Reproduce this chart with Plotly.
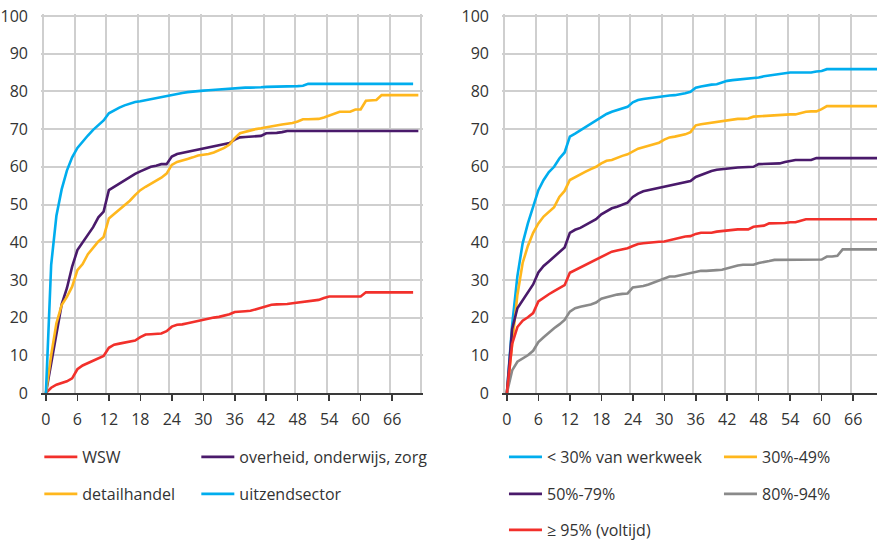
import plotly.graph_objects as go

# ---------------- data (months since start, cumulative %) ----------------
wsw = [0, 1.4, 2.2, 2.7, 3.1, 3.9, 6.3, 7.3, 7.9, 8.5,
       9.2, 9.8, 12.0, 12.8, 13.1, 13.4, 13.6, 13.9, 14.8, 15.5,
       15.6, 15.7, 15.8, 16.4, 17.6, 18.1, 18.2, 18.5, 18.8, 19.3,
       19.6, 19.8, 20.0, 20.2, 20.5, 20.9, 21.5, 21.7, 21.7, 21.8,
       22.2, 22.6, 23.1, 23.4, 23.5, 23.5, 23.6, 23.8, 24.0, 24.2,
       24.3, 24.6, 24.7, 25.2, 25.6, 25.6, 25.6, 25.6, 25.6, 25.6,
       25.6, 26.7, 26.7, 26.7, 26.7, 26.7, 26.7, 26.7, 26.7, 26.7, 26.7]

overheid = [0, 8, 16.5, 23.5, 27.8, 33.5, 37.9, 40.0, 42.0, 44.0,
            46.6, 48.1, 53.8, 54.7, 55.4, 56.5, 57.3, 58.1, 58.8, 59.4,
            60.0, 60.3, 60.7, 60.7, 62.7, 63.4, 63.7, 63.8, 64.1, 64.4,
            64.7, 65.1, 65.5, 65.7, 65.9, 66.3, 67.2, 67.8, 67.9, 68.0,
            68.1, 68.2, 68.9, 68.9, 69.0, 69.2, 69.5, 69.5, 69.5, 69.5,
            69.5, 69.5, 69.5, 69.5, 69.5, 69.5, 69.5, 69.5, 69.5, 69.5,
            69.5, 69.5, 69.5, 69.5, 69.5, 69.5, 69.5, 69.5, 69.5, 69.5, 69.5, 69.5]

detailhandel = [0, 10, 18.5, 23.3, 25.5, 28.2, 32.6, 34.2, 36.8, 38.5,
                40.2, 41.4, 46.3, 47.5, 48.7, 49.8, 51.0, 52.5, 53.8, 54.7,
                55.5, 56.3, 57.1, 58.2, 60.5, 61.3, 61.8, 62.1, 62.5, 63.0,
                63.2, 63.4, 63.8, 64.3, 65.0, 65.9, 67.6, 68.9, 69.3, 69.7,
                70.0, 70.2, 70.5, 70.8, 71.1, 71.2, 71.4, 71.6, 72.0, 72.6,
                72.6, 72.7, 72.7, 73.1, 73.6, 74.1, 74.6, 74.6, 74.6, 75.2,
                75.2, 77.5, 77.7, 77.7, 79.0, 79.0, 79.0, 79.0, 79.0, 79.0, 79.0, 79.0]

uitzend = [0, 34, 47, 54, 59, 62.5, 65, 66.8, 68.3, 69.8,
           71.1, 72.3, 74.2, 75.0, 75.7, 76.3, 76.8, 77.2, 77.4, 77.7,
           77.9, 78.2, 78.5, 78.8, 79.2, 79.4, 79.6, 79.8, 80.0, 80.1,
           80.2, 80.3, 80.4, 80.5, 80.6, 80.7, 80.9, 81.0, 81.0, 81.0,
           81.0, 81.1, 81.2, 81.2, 81.2, 81.2, 81.3, 81.3, 81.4, 81.5,
           82.0, 82.0, 82.0, 82.0, 82.0, 82.0, 82.0, 82.0, 82.0, 82.0,
           82.0, 82.0, 82.0, 82.0, 82.0, 82.0, 82.0, 82.0, 82.0, 82.0, 82.0]

lt30 = [0, 18, 31, 39.7, 45, 49.5, 53.8, 56.5, 58.6, 60.0,
        62.2, 63.8, 68.0, 68.8, 69.7, 70.6, 71.5, 72.4, 73.2, 74.0,
        74.6, 75.0, 75.4, 75.9, 77.1, 77.7, 78.0, 78.2, 78.4, 78.6,
        78.8, 78.9, 79.0, 79.2, 79.5, 79.9, 81.0, 81.3, 81.6, 81.8,
        81.9, 82.4, 82.8, 83.0, 83.1, 83.2, 83.4, 83.5, 83.7, 84.0,
        84.2, 84.4, 84.6, 84.8, 85.0, 85.0, 85.0, 85.0, 85.0, 85.3,
        85.4, 85.9, 85.9, 85.9, 85.9, 85.9, 85.9, 85.9, 85.9, 85.9, 85.9, 85.9]

p30_49 = [0, 14, 26, 34.5, 39, 42.5, 45, 46.8, 48, 49.3,
          52.0, 53.6, 56.5, 57.3, 58.0, 58.7, 59.4, 60.0, 60.9, 61.6,
          61.8, 62.4, 62.9, 63.3, 64.1, 64.8, 65.2, 65.6, 66.0, 66.4,
          67.2, 67.8, 68.0, 68.2, 68.6, 69.2, 71.0, 71.3, 71.5, 71.6,
          71.8, 72.0, 72.3, 72.6, 72.7, 72.7, 72.8, 73.3, 73.4, 73.5,
          73.5, 73.6, 73.7, 73.9, 73.9, 73.9, 74.3, 74.6, 74.7, 74.7,
          75.3, 76.1, 76.1, 76.1, 76.1, 76.1, 76.1, 76.1, 76.1, 76.1, 76.1, 76.1]

p50_79 = [0, 17, 22.5, 24.7, 26.6, 28.8, 32.0, 33.7, 34.9, 36.2,
          37.5, 38.6, 42.5, 43.3, 43.8, 44.6, 45.4, 46.1, 47.4, 48.3,
          49.0, 49.4, 49.9, 50.5, 52.0, 52.9, 53.5, 53.8, 54.1, 54.3,
          54.7, 55.0, 55.3, 55.6, 55.8, 56.2, 57.3, 57.9, 58.5, 58.9,
          59.2, 59.4, 59.5, 59.7, 59.8, 59.9, 60.0, 60.0, 60.7, 60.7,
          60.7, 60.7, 60.9, 61.3, 61.6, 61.8, 61.8, 61.8, 61.8, 62.3,
          62.3, 62.3, 62.3, 62.3, 62.3, 62.3, 62.3, 62.3, 62.3, 62.3, 62.3, 62.3]

p80_94 = [0, 6, 8.3, 9.2, 10.0, 11.2, 13.5, 14.8, 16.1, 17.2,
          18.2, 19.4, 21.6, 22.5, 22.9, 23.1, 23.5, 24.0, 25.0, 25.4,
          25.8, 26.1, 26.3, 26.4, 28.0, 28.2, 28.4, 28.8, 29.3, 30.0,
          30.5, 30.9, 30.9, 31.2, 31.7, 31.9, 32.2, 32.4, 32.4, 32.4,
          32.6, 32.7, 33.1, 33.5, 33.8, 34.0, 34.0, 34.0, 34.5, 34.7,
          35.0, 35.3, 35.3, 35.3, 35.3, 35.3, 35.3, 35.3, 35.3, 35.3,
          35.4, 36.2, 36.2, 36.4, 38.1, 38.1, 38.1, 38.1, 38.1, 38.1, 38.1, 38.1]

p95 = [0, 13, 17.5, 19.2, 20.1, 21.2, 24.3, 25.3, 26.2, 27.0,
       27.8, 28.6, 31.9, 32.6, 33.3, 34.0, 34.6, 35.3, 36.2, 36.9,
       37.5, 37.8, 38.1, 38.4, 39.0, 39.5, 39.7, 39.9, 40.0, 40.1,
       40.2, 40.5, 40.9, 41.3, 41.5, 41.6, 42.2, 42.5, 42.5, 42.5,
       42.8, 43.0, 43.2, 43.4, 43.4, 43.4, 43.4, 44.1, 44.2, 44.4,
       45.0, 45.0, 45.0, 45.1, 45.3, 45.3, 45.7, 46.1, 46.1, 46.1,
       46.1, 46.1, 46.1, 46.1, 46.1, 46.1, 46.1, 46.1, 46.1, 46.1, 46.1, 46.1]

x_tick_labels = ["0", "6", "12", "18", "24", "30", "36", "42", "48", "54", "60", "66"]
x_tick_vals = [0, 6, 12, 18, 24, 30, 36, 42, 48, 54, 60, 66]

# ---------------- styling ----------------
RED = "#f2302b"
PURPLE = "#4a1a6b"
YELLOW = "#ffb71d"
BLUE = "#00adee"
GREY = "#8a8a8a"
TXT = "#333333"
GRID = "#cfcfcf"
FONT = "Open Sans"
LW = 2.6


def months(vals):
    return list(range(len(vals)))


fig = go.Figure()

# (name, values, colour, legend, legend entry width)
left = [("WSW", wsw, RED, "legend", 109),
        ("overheid, onderwijs, zorg", overheid, PURPLE, "legend", 210),
        ("detailhandel", detailhandel, YELLOW, "legend2", 109),
        ("uitzendsector", uitzend, BLUE, "legend2", 210)]
for name, vals, col, lg, lw in left:
    fig.add_trace(go.Scatter(x=months(vals), y=vals, name=name, mode="lines",
                             line=dict(color=col, width=LW), legend=lg,
                             legendwidth=lw,
                             xaxis="x", yaxis="y", hoverinfo="skip"))

right = [("< 30% van werkweek", lt30, BLUE, "legend3", 167),
         ("30%-49%", p30_49, YELLOW, "legend3", 90),
         ("50%-79%", p50_79, PURPLE, "legend4", 167),
         ("80%-94%", p80_94, GREY, "legend4", 90),
         ("≥ 95% (voltijd)", p95, RED, "legend5", 167)]
for name, vals, col, lg, lw in right:
    fig.add_trace(go.Scatter(x=months(vals), y=vals, name=name, mode="lines",
                             line=dict(color=col, width=LW), legend=lg,
                             legendwidth=lw,
                             xaxis="x2", yaxis="y2", hoverinfo="skip"))

tickfont = dict(family=FONT, size=16, color=TXT)

xax = dict(tickmode="array", tickvals=x_tick_vals, ticktext=x_tick_labels,
           showgrid=False, zeroline=False, showline=True, linecolor="#3a3a3a",
           linewidth=1.5, ticks="outside", ticklen=6, tickwidth=1.5,
           tickcolor="#3a3a3a", tickfont=tickfont, ticklabelstandoff=5,
           minor=dict(tickmode="linear", tick0=-0.5, dtick=6, showgrid=True,
                      gridcolor=GRID, gridwidth=2, ticks=""),
           ticklabeloverflow="allow")
yax = dict(range=[0, 100.53], tickmode="linear", tick0=0, dtick=10, showgrid=True,
           gridcolor=GRID, gridwidth=2, zeroline=False, showline=False,
           ticks="", tickfont=tickfont, ticklabelstandoff=12,
           ticklabeloverflow="allow")

LEFT_DOM = [0, 0.4569]
RIGHT_DOM = [0.5514, 1]
LEFT_RANGE = [-0.938, 71.88]
RIGHT_RANGE = [-0.94, 70.55]

leg_common = dict(orientation="h", xanchor="left", yanchor="top",
                  xref="paper", yref="container",
                  font=dict(family=FONT, size=16, color=TXT),
                  bgcolor="rgba(0,0,0,0)", borderwidth=0, itemwidth=33,
                  entrywidthmode="pixels", itemclick=False, itemdoubleclick=False)

fig.update_layout(
    template="none",
    width=877, height=541,
    margin=dict(l=41, r=0, t=14, b=148),
    paper_bgcolor="white", plot_bgcolor="white",
    font=dict(family=FONT, size=16, color=TXT),
    xaxis=dict(domain=LEFT_DOM, range=LEFT_RANGE, anchor="y", **xax),
    yaxis=dict(domain=[0, 1], anchor="x", **yax),
    xaxis2=dict(domain=RIGHT_DOM, range=RIGHT_RANGE, anchor="y2", **xax),
    yaxis2=dict(domain=[0, 1], anchor="x2", **yax),
    legend=dict(x=-0.002, y=0.1867, **leg_common),
    legend2=dict(x=-0.002, y=0.1183, **leg_common),
    legend3=dict(x=0.5538, y=0.1867, **leg_common),
    legend4=dict(x=0.5538, y=0.1183, **leg_common),
    legend5=dict(x=0.5538, y=0.0518, **leg_common),
    showlegend=True,
)

# remove the browser's default 8 px page margin so the figure fills the window
fig.write_html("out.html",
               config={"displayModeBar": False, "staticPlot": True},
               post_script="document.body.style.margin='0';document.body.style.padding='0';")
